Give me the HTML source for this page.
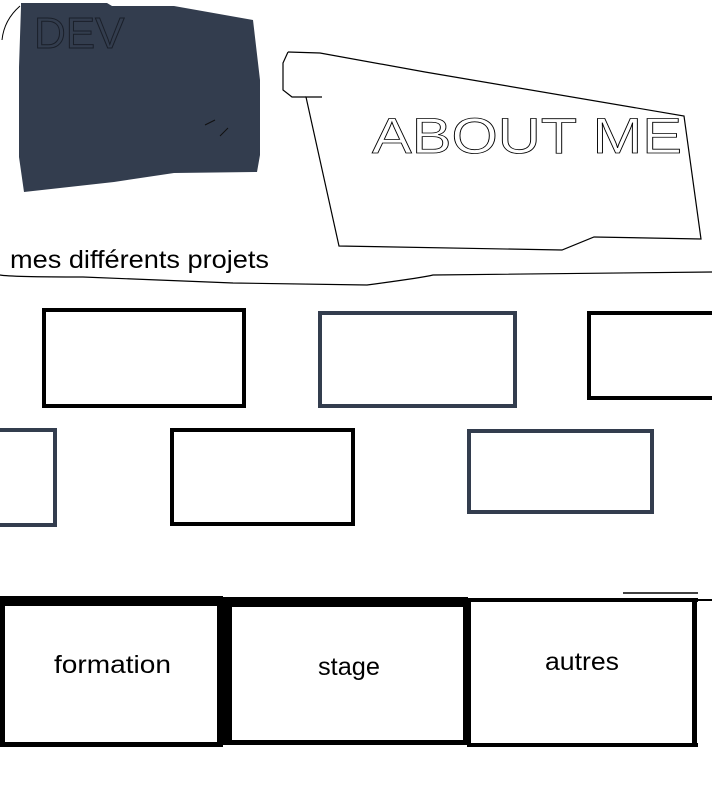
<!DOCTYPE html>
<html><head><meta charset="utf-8"><style>
html,body{margin:0;padding:0;background:#fff;width:712px;height:786px;overflow:hidden}
svg{display:block}
</style></head><body>
<svg width="712" height="786" viewBox="0 0 712 786" xmlns="http://www.w3.org/2000/svg">
<path d="M2,40 Q4,20 20,6" fill="none" stroke="#000" stroke-width="1"/>
<polygon points="21,3 107,3 112,6 174,6 253,20 260,80 260,155 257,172 174,173 114,182 24,192 19,157 19,67 21,7" fill="#333d4e"/>
<text x="34" y="48" font-family="Liberation Sans, sans-serif" font-size="44" fill="none" stroke="#1a1f29" stroke-width="1">DEV</text>
<path d="M205,125 L215,120 M228,128 L220,136" stroke="#111" stroke-width="1" fill="none"/>
<polyline points="288,52 320,53 425,72 684,116 701,239 594,237 562,250 339,246 306,97 322,97" fill="none" stroke="#000" stroke-width="1.2"/>
<polyline points="288,52 283,63 283,90 292,97 306,97" fill="none" stroke="#000" stroke-width="1.2"/>
<text x="372" y="153" font-family="Liberation Sans, sans-serif" font-size="50" textLength="310" lengthAdjust="spacingAndGlyphs" fill="none" stroke="#000" stroke-width="0.8">ABOUT ME</text>
<text x="10" y="268" font-family="Liberation Sans, sans-serif" font-size="25" textLength="259" lengthAdjust="spacingAndGlyphs" fill="#000">mes différents projets</text>
<path d="M0,275 Q10,277 83,277 L233,283 L367,285 Q420,278 433,275 L712,272" fill="none" stroke="#000" stroke-width="1.2"/>
<rect x="44" y="310" width="200" height="96" fill="none" stroke="#000" stroke-width="4"/>
<rect x="320" y="313" width="195" height="93" fill="none" stroke="#333d4e" stroke-width="4"/>
<rect x="589" y="313" width="130" height="85" fill="none" stroke="#000" stroke-width="4"/>
<rect x="-10" y="430" width="65" height="95" fill="none" stroke="#333d4e" stroke-width="4"/>
<rect x="172" y="430" width="181" height="94" fill="none" stroke="#000" stroke-width="4"/>
<rect x="469" y="431" width="183" height="81" fill="none" stroke="#333d4e" stroke-width="4"/>
<line x1="623" y1="593" x2="698" y2="593" stroke="#000" stroke-width="1.5"/>
<line x1="690" y1="600" x2="712" y2="600" stroke="#000" stroke-width="2"/>
<rect x="0" y="596" width="223" height="10" fill="#000"/>
<rect x="0" y="596" width="5" height="151" fill="#000"/>
<rect x="217" y="596" width="6" height="151" fill="#000"/>
<rect x="0" y="742" width="223" height="5" fill="#000"/>
<rect x="223" y="597" width="245" height="10" fill="#000"/>
<rect x="223" y="597" width="9" height="148" fill="#000"/>
<rect x="463" y="597" width="5" height="148" fill="#000"/>
<rect x="223" y="740" width="245" height="5" fill="#000"/>
<rect x="467" y="598" width="231" height="4" fill="#000"/>
<rect x="467" y="598" width="4" height="149" fill="#000"/>
<rect x="692" y="598" width="5" height="149" fill="#000"/>
<rect x="467" y="743" width="231" height="4" fill="#000"/>
<g font-family="Liberation Sans, sans-serif" font-size="25" fill="#000">
<text x="54" y="673" textLength="117" lengthAdjust="spacingAndGlyphs">formation</text>
<text x="318" y="675" textLength="62" lengthAdjust="spacingAndGlyphs">stage</text>
<text x="545" y="670" textLength="74" lengthAdjust="spacingAndGlyphs">autres</text>
</g>
</svg>
</body></html>
